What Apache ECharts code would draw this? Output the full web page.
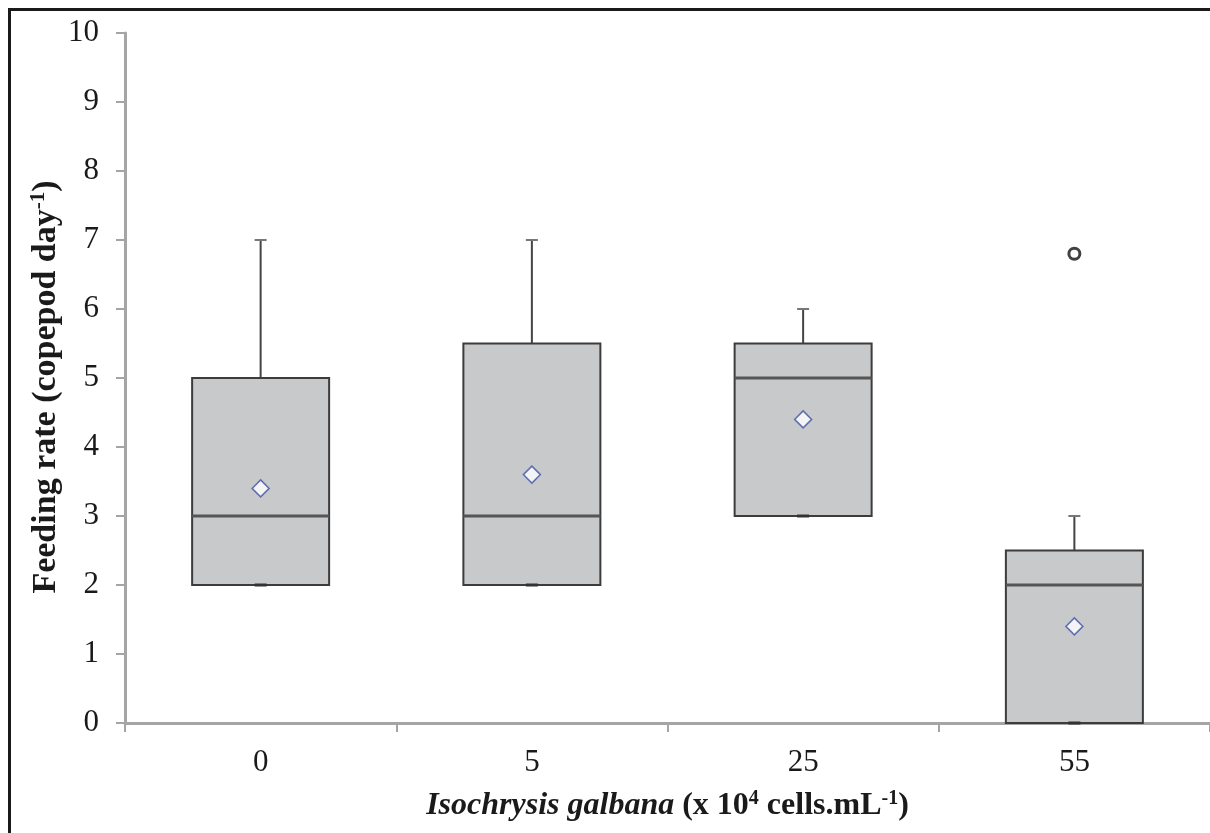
<!DOCTYPE html>
<html>
<head>
<meta charset="utf-8">
<script src="https://cdn.jsdelivr.net/npm/echarts@6/dist/echarts.min.js"></script>
<style>html,body{margin:0;padding:0;background:#fff;}#c{width:1210px;height:833px;}</style>
</head>
<body>
<div id="c"></div>
<script>
var categories = ['0', '5', '25', '55'];
var mins = [2, 2, 3, 0];
var q1s = [2, 2, 3, 0];
var medians = [3, 3, 5, 2];
var q3s = [5, 5.5, 5.5, 2.5];
var maxs = [7, 7, 6, 3];
var means = [3.4, 3.6, 4.4, 1.4];
var outliers = [[3, 6.8]];
var yTicks = [0, 10, 1];

var boxData = categories.map(function (c, i) {
  return [i, mins[i], q1s[i], medians[i], q3s[i], maxs[i]];
});
var meanData = categories.map(function (c, i) { return [i, means[i]]; });

var chart = echarts.init(document.getElementById('c'));
var serif = 'Liberation Serif, Times New Roman, serif';
var axisColor = '#a5a5a5';
var txt = '#1a1a1a';

chart.setOption({
  animation: false,
  grid: { left: 125, right: 0, top: 33, bottom: 110, containLabel: false },
  graphic: [{
    type: 'rect', left: 7, top: 7, z: 100,
    shape: { width: 1215, height: 840 },
    style: { fill: 'none', stroke: '#1a1a1a', lineWidth: 3 }
  }],
  xAxis: {
    type: 'category',
    data: categories,
    boundaryGap: true,
    axisLine: { lineStyle: { color: axisColor, width: 3 } },
    axisTick: { show: true, length: 9, lineStyle: { color: axisColor, width: 2 } },
    axisLabel: { fontFamily: serif, fontSize: 31, color: txt, margin: 24 },
    splitLine: { show: false },
    name: '{i|Isochrysis galbana}{b|\u00a0(x 10}{s|4}{b|\u00a0cells.mL}{s|-1}{b|)}',
    nameLocation: 'middle',
    nameGap: 66,
    nameMoveOverlap: false,
    nameTextStyle: {
      rich: {
        i: { fontFamily: serif, fontSize: 32, fontWeight: 'bold', fontStyle: 'italic', color: txt },
        b: { fontFamily: serif, fontSize: 32, fontWeight: 'bold', color: txt },
        s: { fontFamily: serif, fontSize: 20, fontWeight: 'bold', color: txt, verticalAlign: 'top', padding: [0, 0, 14, 0] }
      }
    }
  },
  yAxis: {
    type: 'value',
    min: yTicks[0], max: yTicks[1], interval: yTicks[2],
    axisLine: { show: true, lineStyle: { color: axisColor, width: 3 } },
    axisTick: { show: true, length: 9, lineStyle: { color: axisColor, width: 2 } },
    axisLabel: { fontFamily: serif, fontSize: 31, color: txt, margin: 26 },
    splitLine: { show: false },
    name: '{b|Feeding rate (copepod day}{s|-1}{b|)}',
    nameLocation: 'middle',
    nameGap: 61,
    nameMoveOverlap: false,
    nameTextStyle: {
      padding: [0, 18, 0, 0],
      rich: {
        b: { fontFamily: serif, fontSize: 34, fontWeight: 'bold', color: txt },
        s: { fontFamily: serif, fontSize: 21, fontWeight: 'bold', color: txt, verticalAlign: 'top', padding: [0, 0, 15, 0] }
      }
    }
  },
  series: [{
    type: 'custom',
    data: boxData,
    encode: { x: 0, y: [1, 2, 3, 4, 5] },
    renderItem: function (params, api) {
      var i = api.value(0);
      var pMin = api.coord([i, api.value(1)]);
      var pQ1 = api.coord([i, api.value(2)]);
      var pMed = api.coord([i, api.value(3)]);
      var pQ3 = api.coord([i, api.value(4)]);
      var pMax = api.coord([i, api.value(5)]);
      var bw = 137, cw = 12, x = pMed[0];
      return {
        type: 'group',
        children: [
          { type: 'line', shape: { x1: x, y1: pMax[1], x2: x, y2: pQ3[1] }, style: { stroke: '#444', lineWidth: 2 } },
          { type: 'line', shape: { x1: x, y1: pQ1[1], x2: x, y2: pMin[1] }, style: { stroke: '#444', lineWidth: 2 } },
          { type: 'line', shape: { x1: x - cw / 2, y1: pMax[1], x2: x + cw / 2, y2: pMax[1] }, style: { stroke: '#777', lineWidth: 2 } },
          { type: 'rect', shape: { x: x - bw / 2, y: pQ3[1], width: bw, height: pQ1[1] - pQ3[1] }, style: { fill: '#c8c9cb', stroke: '#3c3c3c', lineWidth: 2 } },
          { type: 'line', shape: { x1: x - bw / 2, y1: pMed[1], x2: x + bw / 2, y2: pMed[1] }, style: { stroke: '#555', lineWidth: 3 } },
          { type: 'line', shape: { x1: x - cw / 2, y1: pMin[1], x2: x + cw / 2, y2: pMin[1] }, style: { stroke: '#333', lineWidth: 3 } }
        ]
      };
    },
    z: 2
  }, {
    type: 'scatter',
    data: meanData,
    symbol: 'diamond',
    symbolSize: [17, 17],
    itemStyle: { color: '#fff', borderColor: '#3d52a8', borderWidth: 1.5 },
    z: 5
  }, {
    type: 'scatter',
    data: outliers,
    symbol: 'circle',
    symbolSize: 11,
    itemStyle: { color: 'rgba(0,0,0,0)', borderColor: '#111', borderWidth: 3 },
    z: 5
  }]
});
</script>
</body>
</html>
